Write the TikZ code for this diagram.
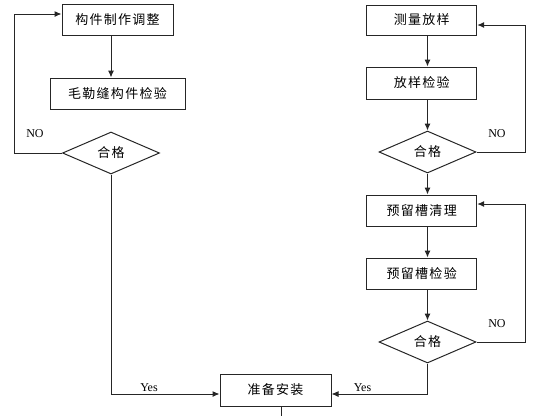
\documentclass[tikz,border=0pt]{standalone}
\usepackage{fontspec}
\newfontfamily\cjk[LetterSpace=10]{Noto Sans CJK SC}
\newfontfamily\lat{Liberation Serif}
\usetikzlibrary{shapes.geometric,arrows.meta,calc}
\begin{document}
\begin{tikzpicture}[x=1pt,y=-1pt,
  box/.style={draw=black!85,line width=1pt,inner sep=0pt,font=\cjk\fontsize{13}{14}\selectfont},
  dia/.style={draw=black!85,line width=1pt,shape=diamond,inner sep=0pt,aspect=2.3,minimum width=97pt,minimum height=42pt,font=\cjk\fontsize{13}{14}\selectfont},
  arr/.style={draw=black!85,line width=1pt,-{Latex[length=7pt,width=6pt]}},
  ln/.style={draw=black!85,line width=1pt},
  lab/.style={font=\lat\fontsize{12}{14}\selectfont,inner sep=0pt,anchor=base}]
\useasboundingbox (0,0) rectangle (542,416);
% left column
\node[box,minimum width=111pt,minimum height=31pt] (b1) at (117.5,19.5) {构件制作调整};
\node[box,minimum width=135pt,minimum height=31pt] (b2) at (117.5,93.5) {毛勒缝构件检验};
\node[dia] (d1) at (111,153) {合格};
% right column
\node[box,minimum width=110pt,minimum height=30pt] (r1) at (421.7,20) {测量放样};
\node[box,minimum width=110pt,minimum height=32pt] (r2) at (421.7,83) {放样检验};
\node[dia] (d2) at (427.5,152) {合格};
\node[box,minimum width=110pt,minimum height=31pt] (r3) at (421.7,210.5) {预留槽清理};
\node[box,minimum width=110pt,minimum height=31pt] (r4) at (421.7,273.5) {预留槽检验};
\node[dia] (d3) at (427.5,342) {合格};
% bottom
\node[box,minimum width=111pt,minimum height=32pt] (e) at (275.5,390) {准备安装};
\coordinate (eout) at (281,416);
% left connectors
\draw[arr] (b1.south -| d1.north) -- (b2.north -| d1.north);
\draw[arr] (d1.west) -- (14,153) -- (14,14) -- ($(b1.west)+(0,-5.5)$);
\draw[arr] (d1.south) -- (111,394) -- ($(e.west)+(0,4)$);
% right connectors
\draw[arr] (r1.south -| d2.north) -- (r2.north -| d2.north);
\draw[arr] (r2.south -| d2.north) -- (d2.north);
\draw[arr] (d2.east) -- (525,152) -- (525,25) -- ($(r1.east)+(0,5)$);
\draw[arr] (d2.south) -- (r3.north -| d2.south);
\draw[arr] (r3.south -| d3.north) -- (r4.north -| d3.north);
\draw[arr] (r4.south -| d3.north) -- (d3.north);
\draw[arr] (d3.east) -- (525,342) -- (525,204) -- ($(r3.east)+(0,-6.5)$);
\draw[arr] (d3.south) -- (427.5,394) -- ($(e.east)+(0,4)$);
\draw[ln] (e.south -| eout) -- (eout);
% labels
\node[lab] (no1) at (35,137) {NO};
\node[lab] (no2) at (497,137) {NO};
\node[lab] (no3) at (497,327) {NO};
\node[lab] (y1) at (149,391) {Yes};
\node[lab] (y2) at (362.5,391) {Yes};
\end{tikzpicture}
\end{document}
